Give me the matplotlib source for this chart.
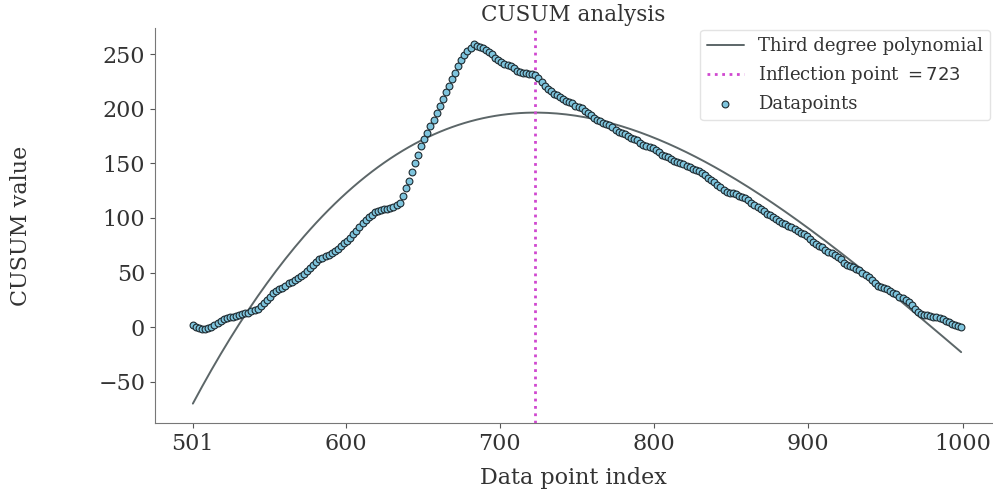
import numpy as np
import matplotlib
matplotlib.use("Agg")
import matplotlib.pyplot as plt
import seaborn as sns

# CUSUM values, every 2nd data point from index 501
cusum = [2, 0, -1, -2, -2, -1, 0, 2, 4, 6,
         7, 8, 9, 9, 10, 11, 12, 13, 13, 15,
         16, 17, 19, 22, 25, 28, 31, 33, 35, 36,
         38, 40, 41, 43, 45, 47, 49, 51, 54, 57,
         60, 62, 63, 65, 66, 68, 70, 72, 74, 77,
         79, 82, 85, 88, 92, 95, 98, 101, 103, 105,
         106, 107, 108, 108, 109, 110, 112, 114, 120, 127,
         134, 142, 150, 158, 166, 172, 178, 184, 190, 196,
         203, 209, 215, 221, 227, 233, 239, 245, 249, 253,
         256, 259, 258, 257, 256, 254, 252, 250, 247, 245,
         243, 241, 240, 239, 237, 235, 234, 233, 233, 232,
         232, 231, 228, 225, 221, 218, 216, 214, 213, 211,
         209, 207, 206, 205, 203, 202, 201, 198, 196, 194,
         192, 190, 189, 187, 186, 185, 183, 181, 179, 178,
         177, 175, 173, 172, 171, 169, 167, 166, 165, 164,
         162, 160, 158, 157, 156, 154, 152, 151, 150, 149,
         148, 147, 145, 144, 143, 141, 139, 137, 135, 133,
         130, 128, 126, 124, 123, 123, 122, 120, 119, 118,
         116, 114, 112, 110, 108, 106, 104, 103, 101, 99,
         97, 95, 94, 93, 92, 90, 88, 86, 85, 83,
         81, 78, 76, 74, 73, 71, 69, 68, 66, 64,
         62, 59, 57, 56, 55, 53, 52, 50, 48, 46,
         43, 40, 38, 37, 36, 35, 33, 31, 30, 28,
         27, 25, 23, 20, 17, 14, 12, 11, 11, 10,
         9, 9, 8, 7, 6, 5, 3, 2, 1, 0]
idx = np.arange(501, 501 + 2 * len(cusum), 2)
inflection = 723
xticks = [501, 600, 700, 800, 900, 1000]

sns.set_style("ticks")
plt.rcParams['font.family'] = ['DejaVu Serif']
plt.rcParams['text.color'] = '#333333'
plt.rcParams['axes.labelcolor'] = '#333333'
plt.rcParams['xtick.color'] = '#555555'
plt.rcParams['ytick.color'] = '#555555'
plt.rcParams['xtick.labelcolor'] = '#333333'
plt.rcParams['ytick.labelcolor'] = '#333333'

fig = plt.figure(figsize=(9.93, 4.92), dpi=100)
ax = fig.add_axes([0.156, 0.140, 0.843, 0.803])

# third degree fit of the cusum curve
poly = np.polynomial.Polynomial.fit(idx, cusum, 3)
ax.plot(idx, poly(idx), color='#5c6668', lw=1.4, label='Third degree polynomial')
ax.axvline(inflection, color='#d048d0', ls=':', lw=2,
           label='Inflection point $= %d$' % inflection)
ax.scatter(idx, cusum, s=24, color='#7ec4dd', edgecolors='#1e2a30',
           linewidths=0.8, zorder=3, label='Datapoints')

ax.set_xlim(476.4, 1019)
ax.set_ylim(-88, 274)
ax.set_xticks(xticks)
ax.tick_params(labelsize=16)
ax.set_title('CUSUM analysis', fontsize=15.5, pad=5)
ax.set_xlabel('Data point index', fontsize=16, labelpad=9)
ax.set_ylabel('CUSUM value', fontsize=16, labelpad=48)
for s in ['left', 'bottom']:
    ax.spines[s].set_color('#777777')
sns.despine(ax=ax)

ax.legend(loc='upper right', fontsize=13, frameon=True, edgecolor='#dddddd',
          borderaxespad=0.1)

fig.savefig('out.png', dpi=100)
